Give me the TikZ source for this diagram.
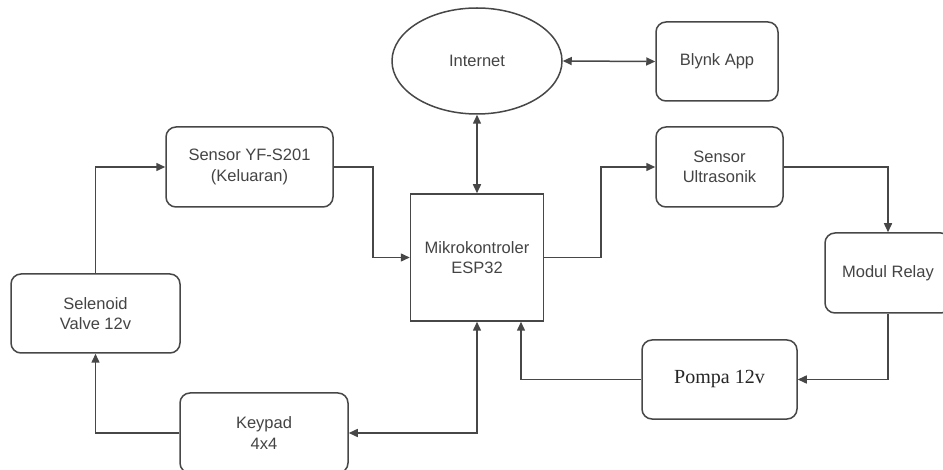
\documentclass[tikz,border=0pt]{standalone}
\usepackage{fontspec}
\setmainfont{Liberation Sans}
\newfontfamily\serifface{Liberation Serif}
\usetikzlibrary{arrows.meta,shapes.geometric}
\definecolor{linec}{HTML}{474747}
\definecolor{textc}{HTML}{444444}
\tikzset{
  basefont/.style={font=\fontsize{16.5}{20.5}\selectfont},
  rbox/.style={draw=linec, line width=1.5pt, rounded corners=10pt, align=center,
    text=textc, basefont, inner sep=0pt},
  ellnode/.style={draw=linec, line width=1.5pt, ellipse, align=center,
    text=textc, basefont, inner sep=0pt},
  sqbox/.style={draw=linec, line width=1.5pt, align=center,
    text=textc, basefont, inner sep=0pt},
  conn/.style={draw=linec, line width=1.5pt, -{Triangle[length=9pt,width=8pt]}},
  biconn/.style={draw=linec, line width=1.5pt, {Triangle[length=9pt,width=8pt]}-{Triangle[length=9pt,width=8pt]}}
}
\begin{document}
\begin{tikzpicture}[x=1pt,y=-1pt]
\useasboundingbox (0,0) rectangle (943,470);
\clip (0,0) rectangle (943,470);
\fill[white] (0,0) rectangle (943,470);

\node[ellnode, minimum width=170pt, minimum height=106pt] (inet) at (477,61) {Internet};
\node[rbox, minimum width=122pt, minimum height=79pt] (blynk) at (717,61.5) {Blynk App};
\node[rbox, minimum width=167pt, minimum height=80pt] (yf) at (249.5,167) {Sensor YF-S201\\(Keluaran)};
\node[sqbox, minimum width=133pt, minimum height=127pt] (esp) at (477,257.5) {Mikrokontroler\\ESP32};
\node[rbox, minimum width=127pt, minimum height=80pt] (ultra) at (719.5,167) {Sensor\\Ultrasonik};
\node[rbox, minimum width=126pt, minimum height=80pt] (relay) at (888,273) {Modul Relay};
\node[rbox, minimum width=169pt, minimum height=79pt] (sel) at (95.5,313.5) {Selenoid\\Valve 12v};
\node[rbox, minimum width=155pt, minimum height=79pt, text=black!85,
      font=\serifface\fontsize{20}{24}\selectfont] (pompa) at (719.5,379.5) {Pompa 12v};
\node[rbox, minimum width=168pt, minimum height=80pt] (keypad) at (264,433) {Keypad\\4x4};

\draw[biconn] (inet.east) -- (blynk.west);
\draw[biconn] (inet.south) -- (esp.north);
\draw[conn] (sel.north) |- (yf.west);
\draw[conn] (yf.east) -- ++(39,0) |- (esp.west);
\draw[conn] (esp.east) -- ++(56.5,0) |- (ultra.west);
\draw[conn] (ultra.east) -| (relay.north);
\draw[conn] (relay.south) |- (pompa.east);
\draw[conn] (pompa.west) -| ([xshift=44pt]esp.south);
\draw[biconn] (esp.south) |- (keypad.east);
\draw[conn] (keypad.west) -| (sel.south);
\end{tikzpicture}
\end{document}
